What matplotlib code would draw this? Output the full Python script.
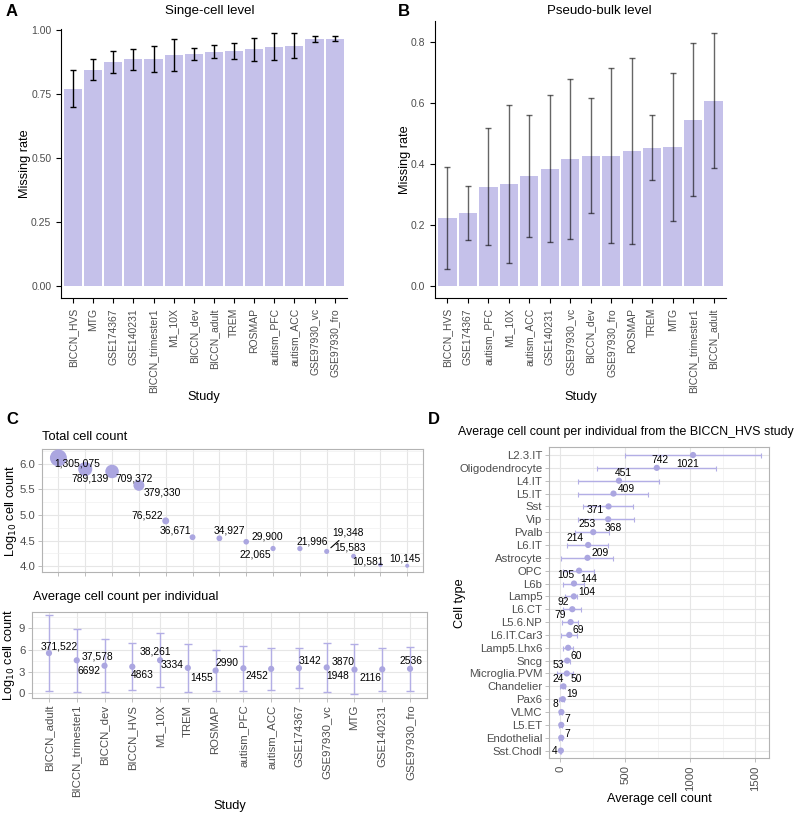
import numpy as np
import matplotlib
matplotlib.use("Agg")
import matplotlib.pyplot as plt

plt.rcParams['font.family'] = ['Liberation Sans', 'DejaVu Sans']

# ---- data -------------------------------------------------------------
studies_a = ["BICCN_HVS", "MTG", "GSE174367", "GSE140231", "BICCN_trimester1",
             "M1_10X", "BICCN_dev", "BICCN_adult", "TREM", "ROSMAP",
             "autism_PFC", "autism_ACC", "GSE97930_vc", "GSE97930_fro"]
rate_a = [0.770, 0.843, 0.873, 0.886, 0.886, 0.903, 0.905, 0.913, 0.917, 0.924,
          0.933, 0.938, 0.964, 0.965]
lo_a = [0.698, 0.803, 0.831, 0.844, 0.836, 0.840, 0.881, 0.889, 0.886, 0.879,
        0.881, 0.889, 0.952, 0.956]
hi_a = [0.842, 0.887, 0.916, 0.926, 0.935, 0.965, 0.929, 0.942, 0.949, 0.968,
        0.986, 0.986, 0.977, 0.975]

studies_b = ["BICCN_HVS", "GSE174367", "autism_PFC", "M1_10X", "autism_ACC",
             "GSE140231", "GSE97930_vc", "BICCN_dev", "GSE97930_fro", "ROSMAP",
             "TREM", "MTG", "BICCN_trimester1", "BICCN_adult"]
rate_b = [0.224, 0.241, 0.325, 0.335, 0.362, 0.386, 0.417, 0.428, 0.429, 0.443,
          0.455, 0.456, 0.546, 0.608]
lo_b = [0.057, 0.152, 0.135, 0.076, 0.163, 0.147, 0.157, 0.240, 0.142, 0.138,
        0.349, 0.214, 0.297, 0.388]
hi_b = [0.390, 0.330, 0.519, 0.594, 0.563, 0.628, 0.680, 0.616, 0.717, 0.749,
        0.562, 0.699, 0.797, 0.830]

studies_c = ["BICCN_adult", "BICCN_trimester1", "BICCN_dev", "BICCN_HVS", "M1_10X",
             "TREM", "ROSMAP", "autism_PFC", "autism_ACC", "GSE174367",
             "GSE97930_vc", "MTG", "GSE140231", "GSE97930_fro"]
total_c = [1305075, 789139, 709372, 379330, 76522, 36671, 34927, 29900, 22065,
           21996, 19348, 15583, 10581, 10145]
avg_c = [371522, 37578, 6692, 4863, 38261, 3334, 1455, 2990, 2452, 3142, 3870,
         1948, 2116, 2536]
avg_lo_c = [0.32, 0.23, 0.14, 0.45, 0.83, 0.23, 0.37, 0.32, 0.46, 0.70, 0.14,
            -0.14, 0.32, 0.37]
avg_hi_c = [10.84, 8.86, 7.48, 6.92, 8.30, 6.79, 5.96, 6.60, 6.30, 6.30, 7.00,
            6.80, 6.30, 6.40]

cell_types = ["L2.3.IT", "Oligodendrocyte", "L4.IT", "L5.IT", "Sst", "Vip", "Pvalb",
              "L6.IT", "Astrocyte", "OPC", "L6b", "Lamp5", "L6.CT", "L5.6.NP",
              "L6.IT.Car3", "Lamp5.Lhx6", "Sncg", "Microglia.PVM", "Chandelier",
              "Pax6", "VLMC", "L5.ET", "Endothelial", "Sst.Chodl"]
avg_d = [1021, 742, 451, 409, 371, 368, 253, 214, 209, 144, 105, 104, 92, 79, 69,
         60, 53, 50, 24, 19, 8, 7, 7, 4]
lo_d = [500, 285, 139, 134, 175, 139, 113, 49, 3, 18, 23, 38, 21, 15, 8, 18, 8,
        -28, 0, -7, -7, -8, -8, -3]
hi_d = [1541, 1195, 762, 677, 562, 569, 377, 367, 408, 262, 180, 128, 157, 136,
        126, 98, 75, 100, 36, 31, 12, 12, 12, 8]

# label offsets (pixels, y up) for the repelled text labels
off_total = [(18.5, -5.2), (5.3, -9.7), (22.4, -7.4), (23.2, -7.5), (-18.3, 5.2),
             (-17, 7.2), (10.3, 7.6), (20.7, 5.0), (-17.9, -6.2), (12.2, 6.6),
             (21, 18.7), (-3.5, 9.2), (-12.2, 3.4), (-2.6, 7.4)]
off_avg = [(10.2, 7.1), (21, 3.6), (-15.9, -5.3), (9.9, -8), (-4.4, 9.2),
           (-15.6, 2.9), (-13.5, -7.8), (-16.4, 5.5), (-13.9, -7.2), (11.4, 7.1),
           (15.9, 5.4), (-16.5, -6.5), (-11.9, -8.4), (1.4, 7.7)]
off_d = [(-5.8, -8.7), (2.9, 7.9), (4.7, 8.1), (12.5, 4.4), (-13.8, -3.4),
         (5.2, -8.5), (-6.2, 8.1), (-13.1, 6.6), (12.2, 4.9), (9.5, -8.2),
         (-8.2, 8.3), (12.9, 3.9), (-9.3, 7.5), (-10.1, 7.0), (8.7, 4.6),
         (8.6, -8.2), (-8.9, -4.3), (9.2, -5.7), (-5.4, 7.2), (9.4, 4.8),
         (-6.3, 8.3), (6.3, 5.9), (6.3, 4.1), (-5.8, -0.6)]

# ---- style -------------------------------------------------------------
BAR = "#c5c1ea"
DOT = "#aba6e0"
ERR = "#b3aee5"
TICK = "#4d4d4d"
GRID = "#e6e6e6"
BORDER = "#b3b3b3"
PX = 0.72  # pixels -> points at dpi 100

W, H = 800, 815
fig = plt.figure(figsize=(W / 100, H / 100), dpi=100)


def ax_px(l, t, r, b):
    return fig.add_axes([l / W, 1 - b / H, (r - l) / W, (b - t) / H])


def ftext(x, y, s, **kw):
    fig.text(x / W, 1 - y / H, s, **kw)


def classic(ax):
    for sp in ["top", "right"]:
        ax.spines[sp].set_visible(False)
    for sp in ["left", "bottom"]:
        ax.spines[sp].set_linewidth(0.8)
    ax.tick_params(length=3.5, width=0.8, colors="black", labelcolor=TICK,
                   labelsize=7.5)


def light(ax):
    for sp in ax.spines.values():
        sp.set_color(BORDER)
        sp.set_linewidth(0.8)
    ax.tick_params(which="both", length=3, width=0.6, colors=BORDER,
                   labelcolor=TICK, labelsize=8.2, pad=2)
    ax.tick_params(which="minor", length=0)
    ax.grid(True, which="major", color=GRID, lw=0.8)
    ax.grid(True, which="minor", color="#f0f0f0", lw=0.5)
    ax.set_axisbelow(True)


def bar_panel(ax, names, vals, lo, hi, ylim, yticks, ylabels, ecol, ealpha):
    x = np.arange(len(names))
    ax.bar(x, vals, width=0.9, color=BAR, zorder=1)
    ax.errorbar(x, vals, yerr=[np.array(vals) - np.array(lo),
                               np.array(hi) - np.array(vals)],
                fmt="none", ecolor=ecol, alpha=ealpha, elinewidth=1.0,
                capsize=2, capthick=1.0, zorder=2)
    ax.set_xlim(-0.6, len(names) - 0.4)
    ax.set_ylim(*ylim)
    ax.set_yticks(yticks)
    ax.set_yticklabels(ylabels)
    ax.set_xticks(x)
    ax.set_xticklabels(names, rotation=90)
    classic(ax)
    ax.set_ylabel("Missing rate", fontsize=9.2)
    ax.set_xlabel("Study", fontsize=9.2)


# ---- A ----
axA = ax_px(61, 29.3, 346.7, 298.3)
bar_panel(axA, studies_a, rate_a, lo_a, hi_a, (-0.046, 1.002),
          [0, 0.25, 0.5, 0.75, 1.0], ["0.00", "0.25", "0.50", "0.75", "1.00"],
          "black", 1.0)
axA.yaxis.set_label_coords(-0.105, 0.5)
axA.xaxis.set_label_coords(0.5, -0.345)
ftext(210, 11, "Singe-cell level", fontsize=9.5, ha="center", va="center")

# ---- B ----
axB = ax_px(435, 20.7, 726, 298.3)
bar_panel(axB, studies_b, rate_b, lo_b, hi_b, (-0.039, 0.871),
          [0, 0.2, 0.4, 0.6, 0.8], ["0.0", "0.2", "0.4", "0.6", "0.8"],
          "black", 0.6)
axB.yaxis.set_label_coords(-0.082, 0.5)
axB.xaxis.set_label_coords(0.5, -0.334)
ftext(599, 11, "Pseudo-bulk level", fontsize=9.5, ha="center", va="center")

# ---- C top: total cell count ----
axC1 = ax_px(42.3, 449, 423.3, 571.7)
xc = np.arange(len(studies_c))
tot = np.array(total_c, dtype=float)
ltot = np.log10(tot)
frac = np.sqrt((tot - tot.min()) / (tot.max() - tot.min()))
dsz = 2.9 + (12.2 - 2.9) * frac
axC1.scatter(xc, ltot, s=dsz ** 2, color=DOT, edgecolor="none", zorder=3)
for i in range(len(xc)):
    dx, dy = off_total[i]
    lab = f"{total_c[i]:,}"
    if i == 10:
        axC1.annotate(lab, (xc[i], ltot[i]), xytext=(dx * PX, dy * PX),
                      textcoords="offset points", ha="center", va="center",
                      fontsize=7.4, zorder=4,
                      arrowprops=dict(arrowstyle="-", color="black", lw=0.8,
                                      shrinkA=0, shrinkB=4))
    else:
        axC1.annotate(lab, (xc[i], ltot[i]), xytext=(dx * PX, dy * PX),
                      textcoords="offset points", ha="center", va="center",
                      fontsize=7.4, zorder=4)
axC1.set_xlim(-0.6, len(xc) - 0.4)
axC1.set_ylim(3.89, 6.29)
axC1.set_xticks(xc)
axC1.set_xticklabels([])
axC1.set_yticks([4.0, 4.5, 5.0, 5.5, 6.0])
axC1.set_yticks([4.25, 4.75, 5.25, 5.75, 6.25], minor=True)
light(axC1)
axC1.set_ylabel(r"Log$_{10}$ cell count", fontsize=9.2)
axC1.yaxis.set_label_coords(-0.061, 0.5)
ftext(42.3, 437, "Total cell count", fontsize=9.3, va="center", ha="left")

# ---- C bottom: average per individual ----
axC2 = ax_px(32.3, 611.7, 426.7, 697.7)
lavg = np.log10(np.array(avg_c, dtype=float))
axC2.errorbar(xc, lavg, yerr=[lavg - np.array(avg_lo_c), np.array(avg_hi_c) - lavg],
              fmt="none", ecolor=ERR, elinewidth=1.0, capsize=3.2,
              capthick=1.0, zorder=2)
axC2.scatter(xc, lavg, s=20, color=DOT, edgecolor="none", zorder=3)
for i in range(len(xc)):
    dx, dy = off_avg[i]
    axC2.annotate(f"{avg_c[i]:,}" if avg_c[i] >= 10000 else str(avg_c[i]),
                  (xc[i], lavg[i]), xytext=(dx * PX, dy * PX),
                  textcoords="offset points", ha="center", va="center",
                  fontsize=7.4, zorder=4)
axC2.set_xlim(-0.6, len(xc) - 0.4)
axC2.set_ylim(-0.6, 11.3)
axC2.set_xticks(xc)
axC2.set_xticklabels(studies_c, rotation=90)
axC2.set_yticks([0, 3, 6, 9])
axC2.set_yticks([1.5, 4.5, 7.5, 10.5], minor=True)
light(axC2)
axC2.set_ylabel(r"Log$_{10}$ cell count", fontsize=9.2)
axC2.yaxis.set_label_coords(-0.040, 0.5)
axC2.set_xlabel("Study", fontsize=9.2)
axC2.xaxis.set_label_coords(0.5, -1.19)
ftext(33, 597, "Average cell count per individual", fontsize=9.3,
      va="center", ha="left")

# ---- D ----
axD = ax_px(549.3, 447.3, 769.3, 758.3)
yd = np.arange(len(cell_types))
ad = np.array(avg_d, dtype=float)
axD.errorbar(ad, yd, xerr=[ad - np.array(lo_d), np.array(hi_d) - ad],
             fmt="none", ecolor=ERR, elinewidth=1.0, capsize=1.8,
             capthick=0.8, zorder=2)
axD.scatter(ad, yd, s=20, color=DOT, edgecolor="none", zorder=3)
for i in range(len(yd)):
    dx, dy = off_d[i]
    axD.annotate(str(avg_d[i]), (ad[i], yd[i]), xytext=(dx * PX, dy * PX),
                 textcoords="offset points", ha="center", va="center",
                 fontsize=7.4, zorder=4)
axD.set_ylim(len(yd) - 0.4, -0.6)
axD.set_xlim(-85, 1608)
axD.set_yticks(yd)
axD.set_yticklabels(cell_types)
axD.set_xticks([0, 500, 1000, 1500])
axD.set_xticks([250, 750, 1250], minor=True)
axD.set_xticklabels(["0", "500", "1000", "1500"], rotation=90)
light(axD)
axD.set_ylabel("Cell type", fontsize=9.2)
axD.yaxis.set_label_coords(-0.379, 0.5)
axD.set_xlabel("Average cell count", fontsize=9.2)
axD.xaxis.set_label_coords(0.5, -0.112)
ftext(458, 432, "Average cell count per individual from the BICCN_HVS study",
      fontsize=8.9, va="center", ha="left")

# panel letters
for lx, ly, s in [(6, 12, "A"), (398, 12, "B"), (6, 420, "C"), (428, 420, "D")]:
    ftext(lx, ly, s, fontsize=12, fontweight="bold", va="center", ha="left")

fig.savefig("out.png", dpi=100)
